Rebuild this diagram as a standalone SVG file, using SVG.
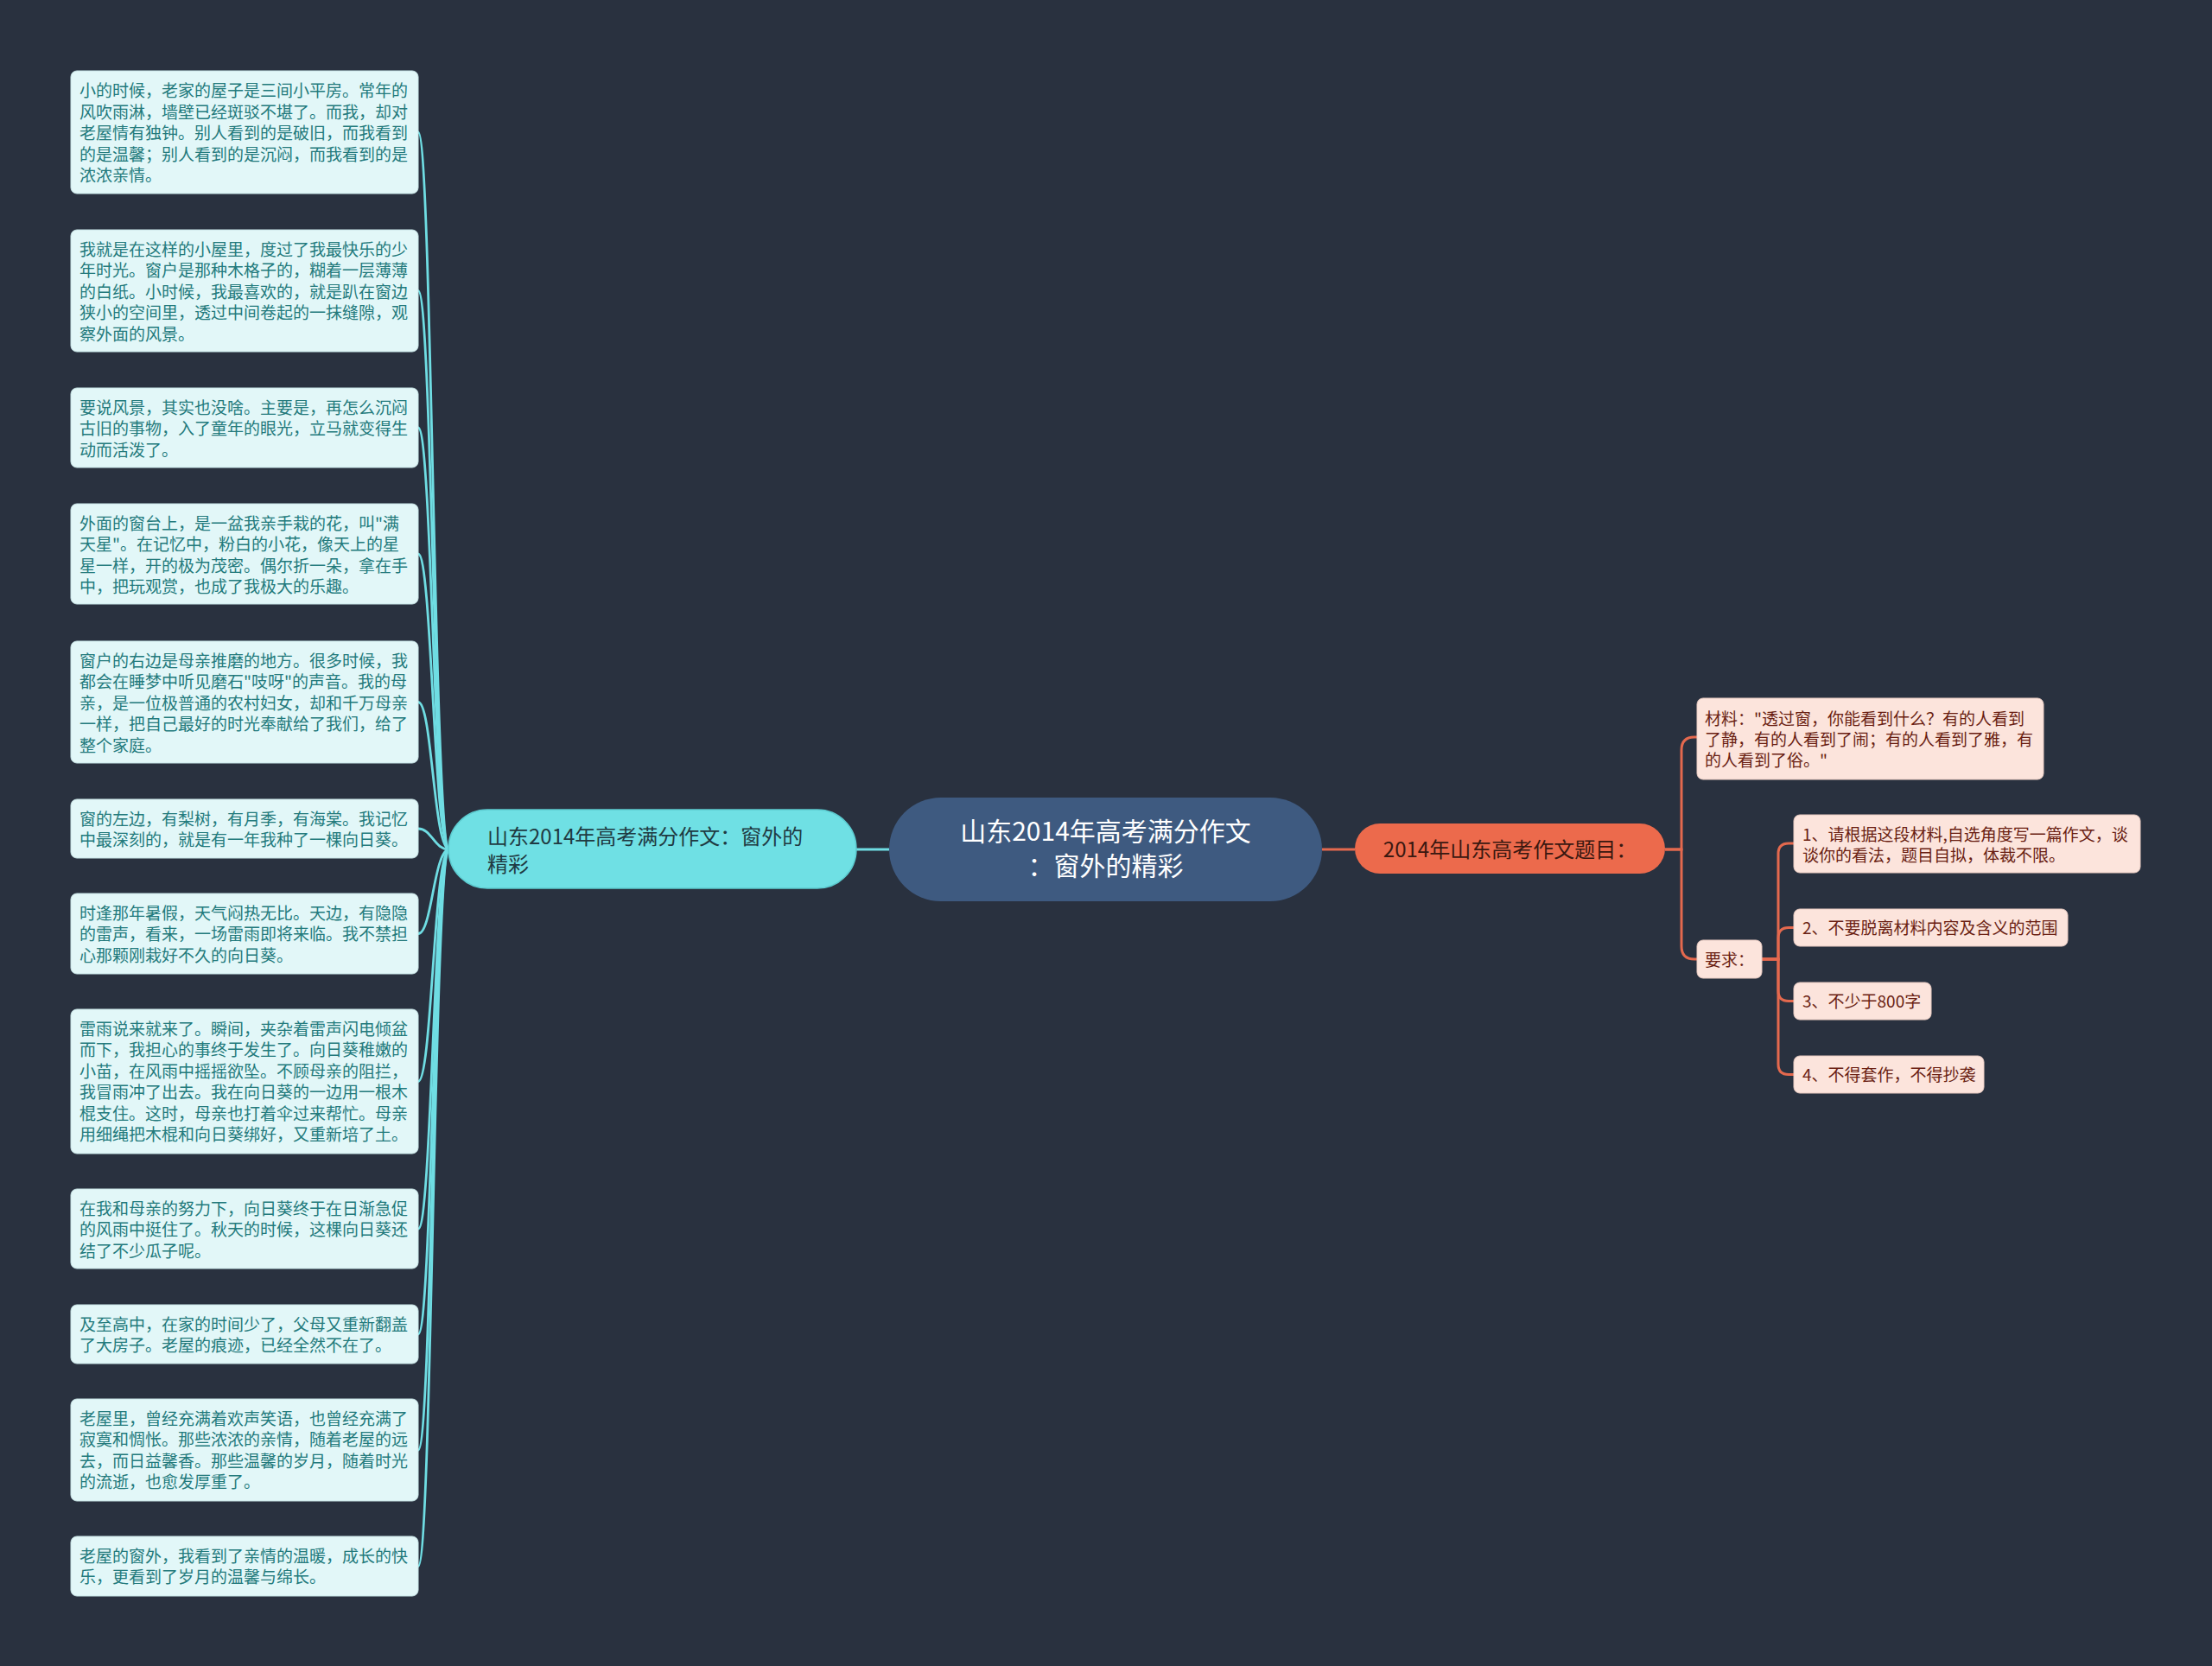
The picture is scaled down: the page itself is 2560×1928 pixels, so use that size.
<svg xmlns="http://www.w3.org/2000/svg" width="2560" height="1928" viewBox="0 0 2560 1928">
<style>
text{font-family:"Noto Sans CJK SC","Noto Sans",sans-serif}
.leaf rect{fill:#e2f7f8;stroke:#c9e6e8;stroke-width:1}
.leaf text{font-size:19px;fill:#237a7c}
.peach rect{fill:#fce4dc;stroke:#e8cbc2;stroke-width:1}
.peach text{font-size:19px;fill:#6a1e12}
.lc{fill:none;stroke:#6fdde3;stroke-width:2.8}
.rc{fill:none;stroke:#e4694e;stroke-width:3}
</style>
<rect x="0" y="0" width="2560" height="1928" fill="#29313f"/>

<g id="connectors">
<line class="lc" x1="991" y1="983" x2="1029" y2="983"/>
<line class="rc" x1="1530" y1="983" x2="1568" y2="983"/>
<path class="lc" d="M484 153 C500 153 502 983 520 983"/>
<path class="lc" d="M484 336.5 C500 336.5 502 983 520 983"/>
<path class="lc" d="M484 495 C500 495 502 983 520 983"/>
<path class="lc" d="M484 641 C500 641 502 983 520 983"/>
<path class="lc" d="M484 812.5 C500 812.5 502 983 520 983"/>
<path class="lc" d="M484 959 C500 959 502 983 520 983"/>
<path class="lc" d="M484 1080.5 C500 1080.5 502 983 520 983"/>
<path class="lc" d="M484 1251.5 C500 1251.5 502 983 520 983"/>
<path class="lc" d="M484 1422 C500 1422 502 983 520 983"/>
<path class="lc" d="M484 1544 C500 1544 502 983 520 983"/>
<path class="lc" d="M484 1678 C500 1678 502 983 520 983"/>
<path class="lc" d="M484 1812.5 C500 1812.5 502 983 520 983"/>
<path class="rc" d="M1927 983 H1946 V868 Q1946 853 1961 853 H1964"/>
<path class="rc" d="M1927 983 H1946 V1095 Q1946 1110 1961 1110 H1964"/>
<path class="rc" d="M2039 1110 H2058 V988 Q2058 976 2070 976 H2076"/>
<path class="rc" d="M2039 1110 H2058 V1085.5 Q2058 1073.5 2070 1073.5 H2076"/>
<path class="rc" d="M2039 1110 H2058 V1146.5 Q2058 1158.5 2070 1158.5 H2076"/>
<path class="rc" d="M2039 1110 H2058 V1231.5 Q2058 1243.5 2070 1243.5 H2076"/>
</g>

<g id="center">
<rect x="1029" y="923" width="501" height="120" rx="60" fill="#3e5a80"/>
<text font-size="30" fill="#ffffff" text-anchor="middle"><tspan x="1279.5" y="973">山东2014年高考满分作文</tspan><tspan x="1279.5" y="1013">：窗外的精彩</tspan></text>
</g>

<g id="branch-left">
<rect x="519" y="937" width="472" height="91" rx="45" fill="#6fe0e4" stroke="#5ccbd0" stroke-width="1.5"/>
<text font-size="24" fill="#1f3a42"><tspan x="564" y="977">山东2014年高考满分作文：窗外的</tspan><tspan x="564" y="1009">精彩</tspan></text>
</g>

<g id="branch-right">
<rect x="1568" y="953" width="359" height="58" rx="29" fill="#ec6a4c"/>
<text x="1747.5" y="992" font-size="24" fill="#3a1810" text-anchor="middle">2014年山东高考作文题目：</text>
</g>

<g id="leaf1" class="leaf">
<rect x="82" y="82" width="402" height="142" rx="7"/>
<text x="92" y="112">小的时候，老家的屋子是三间小平房。常年的</text>
<text x="92" y="136.5">风吹雨淋，墙壁已经斑驳不堪了。而我，却对</text>
<text x="92" y="161">老屋情有独钟。别人看到的是破旧，而我看到</text>
<text x="92" y="185.5">的是温馨；别人看到的是沉闷，而我看到的是</text>
<text x="92" y="210">浓浓亲情。</text>
</g>
<g id="leaf2" class="leaf">
<rect x="82" y="266" width="402" height="141" rx="7"/>
<text x="92" y="295.5">我就是在这样的小屋里，度过了我最快乐的少</text>
<text x="92" y="320">年时光。窗户是那种木格子的，糊着一层薄薄</text>
<text x="92" y="344.5">的白纸。小时候，我最喜欢的，就是趴在窗边</text>
<text x="92" y="369">狭小的空间里，透过中间卷起的一抹缝隙，观</text>
<text x="92" y="393.5">察外面的风景。</text>
</g>
<g id="leaf3" class="leaf">
<rect x="82" y="449" width="402" height="92" rx="7"/>
<text x="92" y="478.5">要说风景，其实也没啥。主要是，再怎么沉闷</text>
<text x="92" y="503">古旧的事物，入了童年的眼光，立马就变得生</text>
<text x="92" y="527.5">动而活泼了。</text>
</g>
<g id="leaf4" class="leaf">
<rect x="82" y="583" width="402" height="116" rx="7"/>
<text x="92" y="612.5">外面的窗台上，是一盆我亲手栽的花，叫"满</text>
<text x="92" y="637">天星"。在记忆中，粉白的小花，像天上的星</text>
<text x="92" y="661.5">星一样，开的极为茂密。偶尔折一朵，拿在手</text>
<text x="92" y="686">中，把玩观赏，也成了我极大的乐趣。</text>
</g>
<g id="leaf5" class="leaf">
<rect x="82" y="742" width="402" height="141" rx="7"/>
<text x="92" y="771.5">窗户的右边是母亲推磨的地方。很多时候，我</text>
<text x="92" y="796">都会在睡梦中听见磨石"吱呀"的声音。我的母</text>
<text x="92" y="820.5">亲，是一位极普通的农村妇女，却和千万母亲</text>
<text x="92" y="845">一样，把自己最好的时光奉献给了我们，给了</text>
<text x="92" y="869.5">整个家庭。</text>
</g>
<g id="leaf6" class="leaf">
<rect x="82" y="925" width="402" height="68" rx="7"/>
<text x="92" y="954.5">窗的左边，有梨树，有月季，有海棠。我记忆</text>
<text x="92" y="979">中最深刻的，就是有一年我种了一棵向日葵。</text>
</g>
<g id="leaf7" class="leaf">
<rect x="82" y="1034" width="402" height="93" rx="7"/>
<text x="92" y="1063.5">时逢那年暑假，天气闷热无比。天边，有隐隐</text>
<text x="92" y="1088">的雷声，看来，一场雷雨即将来临。我不禁担</text>
<text x="92" y="1112.5">心那颗刚栽好不久的向日葵。</text>
</g>
<g id="leaf8" class="leaf">
<rect x="82" y="1168" width="402" height="167" rx="7"/>
<text x="92" y="1197.5">雷雨说来就来了。瞬间，夹杂着雷声闪电倾盆</text>
<text x="92" y="1222">而下，我担心的事终于发生了。向日葵稚嫩的</text>
<text x="92" y="1246.5">小苗，在风雨中摇摇欲坠。不顾母亲的阻拦，</text>
<text x="92" y="1271">我冒雨冲了出去。我在向日葵的一边用一根木</text>
<text x="92" y="1295.5">棍支住。这时，母亲也打着伞过来帮忙。母亲</text>
<text x="92" y="1320">用细绳把木棍和向日葵绑好，又重新培了土。</text>
</g>
<g id="leaf9" class="leaf">
<rect x="82" y="1376" width="402" height="92" rx="7"/>
<text x="92" y="1405.5">在我和母亲的努力下，向日葵终于在日渐急促</text>
<text x="92" y="1430">的风雨中挺住了。秋天的时候，这棵向日葵还</text>
<text x="92" y="1454.5">结了不少瓜子呢。</text>
</g>
<g id="leaf10" class="leaf">
<rect x="82" y="1510" width="402" height="68" rx="7"/>
<text x="92" y="1539.5">及至高中，在家的时间少了，父母又重新翻盖</text>
<text x="92" y="1564">了大房子。老屋的痕迹，已经全然不在了。</text>
</g>
<g id="leaf11" class="leaf">
<rect x="82" y="1619" width="402" height="118" rx="7"/>
<text x="92" y="1648.5">老屋里，曾经充满着欢声笑语，也曾经充满了</text>
<text x="92" y="1673">寂寞和惆怅。那些浓浓的亲情，随着老屋的远</text>
<text x="92" y="1697.5">去，而日益馨香。那些温馨的岁月，随着时光</text>
<text x="92" y="1722">的流逝，也愈发厚重了。</text>
</g>
<g id="leaf12" class="leaf">
<rect x="82" y="1778" width="402" height="69" rx="7"/>
<text x="92" y="1807.5">老屋的窗外，我看到了亲情的温暖，成长的快</text>
<text x="92" y="1832">乐，更看到了岁月的温馨与绵长。</text>
</g>

<g id="material" class="peach">
<rect x="1964" y="808" width="401" height="94" rx="7"/>
<text x="1973" y="839">材料："透过窗，你能看到什么？有的人看到</text>
<text x="1973" y="863">了静，有的人看到了闹；有的人看到了雅，有</text>
<text x="1973" y="887">的人看到了俗。"</text>
</g>
<g id="require" class="peach">
<rect x="1964" y="1088" width="75" height="44" rx="7"/>
<text x="1973" y="1118">要求：</text>
</g>
<g id="req1" class="peach">
<rect x="2076" y="943" width="401" height="67" rx="7"/>
<text x="2086" y="973">1、请根据这段材料,自选角度写一篇作文，谈</text>
<text x="2086" y="997">谈你的看法，题目自拟，体裁不限。</text>
</g>
<g id="req2" class="peach">
<rect x="2076" y="1052" width="317" height="43" rx="7"/>
<text x="2086" y="1081">2、不要脱离材料内容及含义的范围</text>
</g>
<g id="req3" class="peach">
<rect x="2076" y="1137" width="159" height="43" rx="7"/>
<text x="2086" y="1166">3、不少于800字</text>
</g>
<g id="req4" class="peach">
<rect x="2076" y="1222" width="220" height="43" rx="7"/>
<text x="2086" y="1251">4、不得套作，不得抄袭</text>
</g>
</svg>
